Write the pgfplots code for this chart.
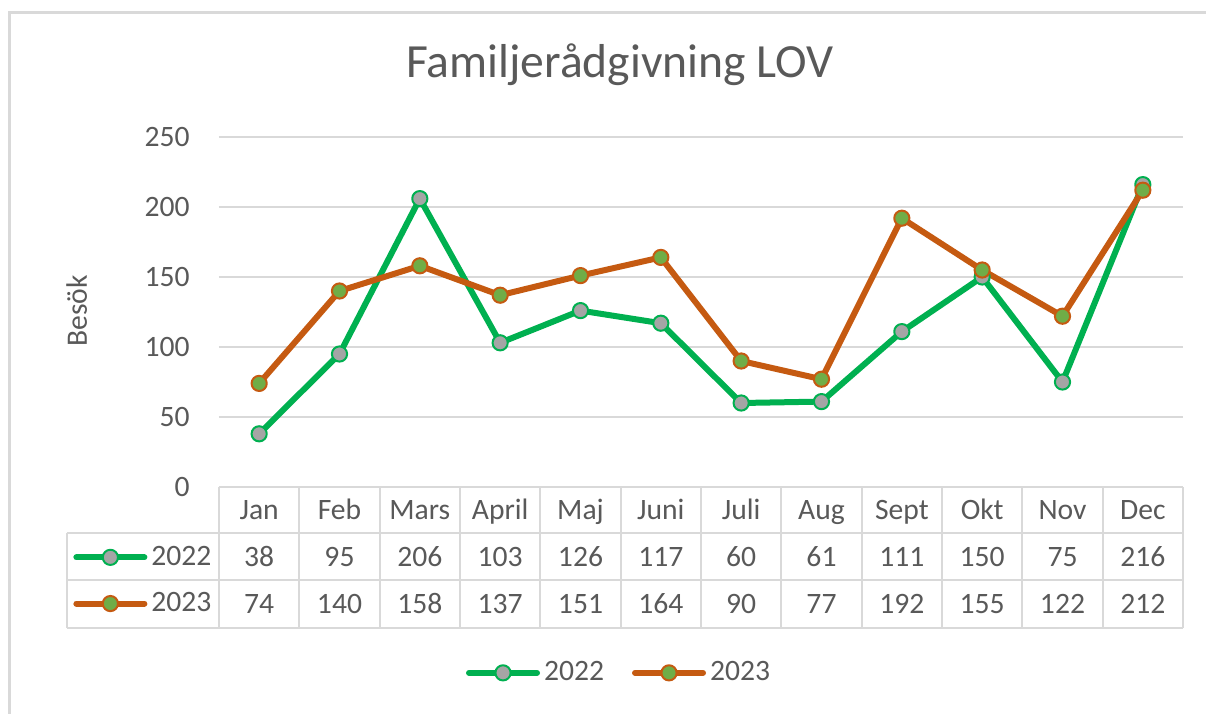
\documentclass[border=0pt]{standalone}
\usepackage{pgfplots}
\pgfplotsset{compat=1.18}
\usepackage{pgfplotstable}
\usepackage{fontspec}
\setmainfont{Carlito}

\definecolor{lgreen}{HTML}{00B050}
\definecolor{orng}{HTML}{C55A11}
\definecolor{mgray}{HTML}{A5A5A5}
\definecolor{mgreen}{HTML}{70AD47}
\definecolor{gridc}{HTML}{D9D9D9}
\definecolor{txt}{HTML}{595959}

\newcommand{\fs}{\fontsize{14.8}{17}\selectfont}
\newcommand{\ft}{\fontsize{23.8}{28}\selectfont}

% besok per manad, 2022 (a) och 2023 (b)
\pgfplotstableread{
x  a   b
1  38  74
2  95  140
3  206 158
4  103 137
5  126 151
6  117 164
7  60  90
8  61  77
9  111 192
10 150 155
11 75  122
12 216 212
}\besok

\pgfplotsset{
  s22/.style={color=lgreen, line width=3pt, line join=round, line cap=round,
    mark=*, mark size=3.8pt, mark options={fill=mgray, draw=lgreen, line width=1pt}},
  s23/.style={color=orng, line width=3pt, line join=round, line cap=round,
    mark=*, mark size=3.8pt, mark options={fill=mgreen, draw=orng, line width=1pt}},
  keyimg/.style={legend image code/.code={
    \draw[mark repeat=2, mark phase=2, ##1] plot coordinates {(0pt,0pt) (17pt,0pt) (34pt,0pt)};}},
  base/.style={scale only axis, width=482pt, height=175pt,
    xmin=0.5, xmax=12.5, ymin=0, ymax=250, clip=false},
}

\begin{document}
\begin{tikzpicture}
\begin{scope}[x=0.5pt, y=-0.5pt, shift={(-109.5pt,243.5pt)}]
  \draw[gridc, line width=1.5pt] (10,13) rectangle (1240,760);
  \draw[gridc, line width=1pt] (67,533) -- (1183,533) (67,580) -- (1183,580)
    (67,628) -- (1183,628) (67,533) -- (67,628);
  \foreach \k in {0,...,12}
    \draw[gridc, line width=1pt] ({219+\k*80.333},487) -- ({219+\k*80.333},628);
  \node[anchor=base, font=\ft, text=txt] at (620,78) {Familjerådgivning LOV};
  \node[rotate=90, anchor=base, font=\fs, text=txt] at (87,311) {Besök};
\end{scope}

\begin{axis}[base,
  axis line style={draw=none},
  major tick length=0pt,
  ytick={0,50,...,250},
  ymajorgrids, grid style={gridc, line width=1pt},
  xtick={1,...,12},
  xticklabels={Jan,Feb,Mars,April,Maj,Juni,Juli,Aug,Sept,Okt,Nov,Dec},
  tick label style={font=\fs, text=txt, inner sep=0pt},
  xticklabel style={anchor=base, yshift=-16pt},
  yticklabel style={anchor=east, xshift=-14.5pt},
  /pgf/number format/assume math mode=true,
  keyimg,
  legend columns=2,
  legend style={draw=none, fill=none, font=\fs, text=txt,
    at={(0.416,-0.531)}, anchor=center,
    /tikz/every even column/.append style={column sep=12pt}},
]
\addplot[s22] table[x=x, y=a] {\besok};
\addlegendentry{2022}
\addplot[s23] table[x=x, y=b] {\besok};
\addlegendentry{2023}

\addplot[forget plot, draw=none, mark=none, nodes near coords, point meta=explicit symbolic,
  every node near coord/.append style={anchor=base, inner sep=0pt, font=\fs, text=txt}]
  table[x=x, y expr=-57.14, meta=a] {\besok};
\addplot[forget plot, draw=none, mark=none, nodes near coords, point meta=explicit symbolic,
  every node near coord/.append style={anchor=base, inner sep=0pt, font=\fs, text=txt}]
  table[x=x, y expr=-90, meta=b] {\besok};
\end{axis}

\begin{axis}[base, hide axis, keyimg,
  legend columns=1,
  legend style={draw=none, fill=none, font=\fs, text=txt,
    at={(-0.1577,-0.267)}, anchor=west, row sep=8pt},
]
\addlegendimage{s22}
\addlegendentry{2022}
\addlegendimage{s23}
\addlegendentry{2023}
\end{axis}

\begin{scope}[x=0.5pt, y=-0.5pt, shift={(-109.5pt,243.5pt)}]
  \pgfresetboundingbox
  \path[use as bounding box] (0,0) rectangle (1206,713);
\end{scope}
\end{tikzpicture}
\end{document}
